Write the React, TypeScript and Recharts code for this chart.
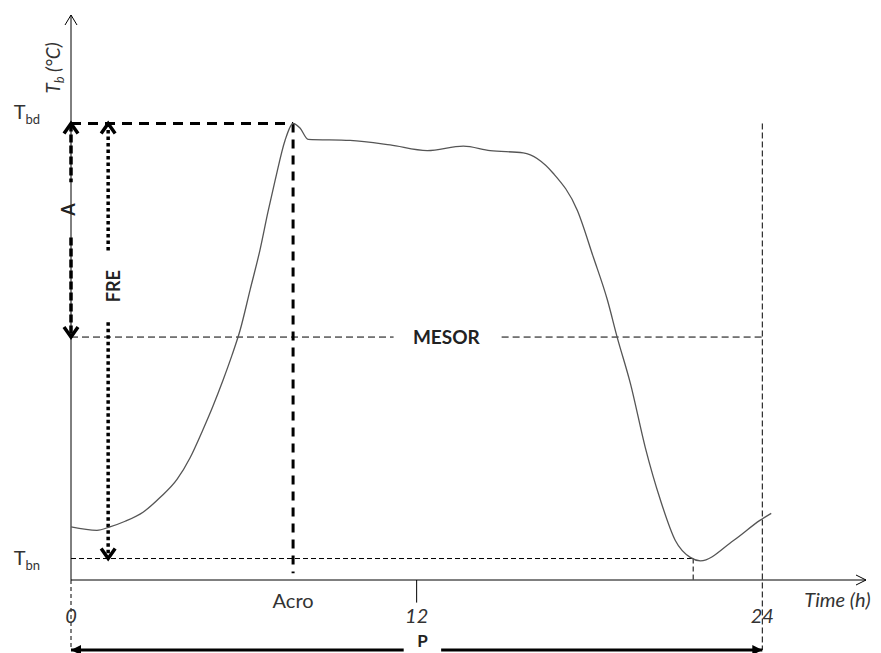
import React from 'react';
import { LineChart, Line, XAxis, YAxis, ReferenceLine, ReferenceDot } from 'recharts';

// body temperature curve over one day (hours, °C - arbitrary scale)
const hours = [0, 0.9, 1.35, 1.88, 2.5, 3.09, 3.68, 4.13, 4.58, 4.93, 5.28, 5.59, 5.87, 6.22, 6.56, 6.84, 7.09, 7.43, 7.71, 7.95, 8.23, 9.69, 11.08, 12.37, 13.62, 14.55, 15.7, 16.74, 17.58, 18.13, 18.62, 18.96, 19.42, 19.94, 20.46, 20.98, 21.5, 21.85, 23.0, 23.93, 24.31];
const temps = [35.47, 35.44, 35.47, 35.52, 35.6, 35.73, 35.89, 36.08, 36.33, 36.54, 36.77, 36.99, 37.21, 37.57, 37.92, 38.26, 38.54, 38.89, 39.04, 39.0, 38.9, 38.89, 38.85, 38.8, 38.84, 38.8, 38.78, 38.6, 38.27, 37.86, 37.48, 37.15, 36.74, 36.17, 35.71, 35.35, 35.2, 35.17, 35.35, 35.53, 35.59];

const xTicks = [0, 12, 24];
const tickLabels = ['0', '12', '24'];

// cosinor parameters
const T_BD = 39.04;
const T_BN = 35.19;
const MESOR = 37.15;
const ACRO = 7.71;
const PERIOD = 24;
const T_MIN_TIME = 21.6;
const FRE_X = 1.29;

const Y_MIN = 35;
const Y_MAX = 40;
const X_MAX = 27.6;
const P_Y = 34.38;

const data = hours.map((h, i) => ({ h, t: temps[i] }));

const FONT = "Lato, 'Liberation Sans', sans-serif";

type Head = 'open' | 'fill' | undefined;

const arrow = (start: Head, end: Head, len = 10, half = 7) => (p: any) => {
  const { x1, y1, x2, y2, stroke, strokeWidth, strokeDasharray } = p;
  const dx = x2 - x1;
  const dy = y2 - y1;
  const d = Math.hypot(dx, dy) || 1;
  const ux = dx / d;
  const uy = dy / d;
  const nx = -uy;
  const ny = ux;
  const head = (tx: number, ty: number, sx: number, sy: number, kind: Head) => {
    const ax = tx + sx * len + nx * half;
    const ay = ty + sy * len + ny * half;
    const bx = tx + sx * len - nx * half;
    const by = ty + sy * len - ny * half;
    if (kind === 'fill') {
      return <path d={`M${ax},${ay}L${tx},${ty}L${bx},${by}Z`} fill={stroke} stroke="none" />;
    }
    return <path d={`M${ax},${ay}L${tx},${ty}L${bx},${by}`} fill="none" stroke={stroke} strokeWidth={strokeWidth} />;
  };
  return (
    <g>
      <line x1={x1} y1={y1} x2={x2} y2={y2} stroke={stroke} strokeWidth={strokeWidth} strokeDasharray={strokeDasharray} />
      {start && head(x1, y1, ux, uy, start)}
      {end && head(x2, y2, -ux, -uy, end)}
    </g>
  );
};

const txt = (content: React.ReactNode, o: { dx?: number; dy?: number; anchor?: string; size?: number; bold?: boolean; italic?: boolean; rotate?: boolean; fill?: string }) => (p: any) => {
  const x = p.cx + (o.dx || 0);
  const y = p.cy + (o.dy || 0);
  return (
    <text
      x={x}
      y={y}
      textAnchor={o.anchor || 'middle'}
      fontFamily={FONT}
      fontSize={o.size || 20}
      fontWeight={o.bold ? 'bold' : 'normal'}
      fontStyle={o.italic ? 'italic' : 'normal'}
      fill={o.fill || '#222'}
      transform={o.rotate ? `rotate(-90 ${x} ${y})` : undefined}
    >
      {content}
    </text>
  );
};

export default function App() {
  return (
    <div style={{ width: 873, height: 645, background: '#fff' }}>
      <LineChart width={873} height={645} data={data} margin={{ top: 7, right: 15, bottom: 73, left: 63 }}>
        <XAxis dataKey="h" type="number" domain={[0, X_MAX]} allowDataOverflow hide />
        <YAxis type="number" domain={[Y_MIN, Y_MAX]} allowDataOverflow hide />

        {/* axes */}
        <ReferenceLine segment={[{ x: 0, y: Y_MIN }, { x: 0, y: Y_MAX }]} stroke="#000" strokeWidth={1} ifOverflow="visible" shape={arrow(undefined, 'open', 10, 6)} />
        <ReferenceLine segment={[{ x: 0, y: Y_MIN }, { x: X_MAX, y: Y_MIN }]} stroke="#000" strokeWidth={1} ifOverflow="visible" shape={arrow(undefined, 'open', 10, 5)} />
        <ReferenceLine segment={[{ x: 12, y: Y_MIN }, { x: 12, y: Y_MIN - 0.2 }]} stroke="#000" strokeWidth={1} ifOverflow="visible" />

        {/* guide lines */}
        <ReferenceLine segment={[{ x: 0, y: MESOR }, { x: 11.2, y: MESOR }]} stroke="#000" strokeWidth={1} strokeDasharray="7 4" ifOverflow="visible" />
        <ReferenceLine segment={[{ x: 14.95, y: MESOR }, { x: PERIOD, y: MESOR }]} stroke="#000" strokeWidth={1} strokeDasharray="7 4" ifOverflow="visible" />
        <ReferenceLine segment={[{ x: 0, y: T_BN }, { x: T_MIN_TIME, y: T_BN }]} stroke="#000" strokeWidth={1} strokeDasharray="5 3" ifOverflow="visible" />
        <ReferenceLine segment={[{ x: T_MIN_TIME, y: T_BN }, { x: T_MIN_TIME, y: Y_MIN }]} stroke="#000" strokeWidth={1} strokeDasharray="5 3" ifOverflow="visible" />
        <ReferenceLine segment={[{ x: PERIOD, y: T_BD }, { x: PERIOD, y: P_Y }]} stroke="#000" strokeWidth={1} strokeDasharray="6 3" ifOverflow="visible" />
        <ReferenceLine segment={[{ x: 0, y: Y_MIN }, { x: 0, y: P_Y }]} stroke="#000" strokeWidth={1} strokeDasharray="4 3" ifOverflow="visible" />

        <ReferenceLine segment={[{ x: 0, y: T_BD }, { x: ACRO, y: T_BD }]} stroke="#000" strokeWidth={3} strokeDasharray="10 7" ifOverflow="visible" />
        <ReferenceLine segment={[{ x: ACRO, y: T_BD }, { x: ACRO, y: 35.06 }]} stroke="#000" strokeWidth={3} strokeDasharray="9 7" ifOverflow="visible" />

        {/* amplitude A */}
        <ReferenceLine segment={[{ x: 0, y: T_BD }, { x: 0, y: 38.52 }]} stroke="#000" strokeWidth={3.5} strokeDasharray="8 3" ifOverflow="visible" shape={arrow('open', undefined, 10, 7)} />
        <ReferenceLine segment={[{ x: 0, y: 38.03 }, { x: 0, y: MESOR }]} stroke="#000" strokeWidth={3.5} strokeDasharray="8 3" ifOverflow="visible" shape={arrow(undefined, 'open', 10, 7)} />

        {/* FRE */}
        <ReferenceLine segment={[{ x: FRE_X, y: T_BD }, { x: FRE_X, y: 37.9 }]} stroke="#000" strokeWidth={3.5} strokeDasharray="3.5 3" ifOverflow="visible" shape={arrow('open', undefined, 10, 7)} />
        <ReferenceLine segment={[{ x: FRE_X, y: 37.28 }, { x: FRE_X, y: T_BN }]} stroke="#000" strokeWidth={3.5} strokeDasharray="3.5 3" ifOverflow="visible" shape={arrow(undefined, 'open', 10, 7)} />

        {/* period P */}
        <ReferenceLine segment={[{ x: 0, y: P_Y }, { x: 11.55, y: P_Y }]} stroke="#000" strokeWidth={3} ifOverflow="visible" shape={arrow('fill', undefined, 10, 5)} />
        <ReferenceLine segment={[{ x: 12.85, y: P_Y }, { x: PERIOD, y: P_Y }]} stroke="#000" strokeWidth={3} ifOverflow="visible" shape={arrow(undefined, 'fill', 10, 5)} />

        <Line type="monotone" dataKey="t" stroke="#555" strokeWidth={1.3} dot={false} isAnimationActive={false} />

        {/* labels */}
        <ReferenceDot x={0} y={T_BD} r={0} ifOverflow="visible" shape={txt(<>T<tspan fontSize={13} dy={5}>bd</tspan></>, { dx: -31, dy: -4, anchor: 'end', fill: '#333' })} />
        <ReferenceDot x={0} y={T_BN} r={0} ifOverflow="visible" shape={txt(<>T<tspan fontSize={13} dy={5}>bn</tspan></>, { dx: -31, dy: 6, anchor: 'end', fill: '#333' })} />
        <ReferenceDot x={0} y={Y_MAX} r={0} ifOverflow="visible" shape={txt(<>T<tspan fontSize={13} dy={4}>b</tspan><tspan dy={-4}> (°C)</tspan></>, { dx: -11, dy: 53, italic: true, rotate: true, size: 19, fill: '#333' })} />
        <ReferenceDot x={0} y={38.28} r={0} ifOverflow="visible" shape={txt('A', { dx: 4, bold: true, rotate: true, size: 18 })} />
        <ReferenceDot x={FRE_X} y={37.6} r={0} ifOverflow="visible" shape={txt('FRE', { dx: 12, bold: true, rotate: true, size: 18 })} />
        <ReferenceDot x={13.03} y={MESOR} r={0} ifOverflow="visible" shape={txt('MESOR', { dy: 7, bold: true, size: 19 })} />
        <ReferenceDot x={12.2} y={P_Y} r={0} ifOverflow="visible" shape={txt('P', { dy: -3, bold: true, size: 17 })} />
        <ReferenceDot x={ACRO} y={Y_MIN} r={0} ifOverflow="visible" shape={txt('Acro', { dy: 28, size: 20, fill: '#333' })} />
        {xTicks.map((t, i) => (
          <ReferenceDot key={t} x={t} y={Y_MIN} r={0} ifOverflow="visible" shape={txt(tickLabels[i], { dy: 43, italic: true, size: 20, fill: '#333' })} />
        ))}
        <ReferenceDot x={PERIOD} y={Y_MIN} r={0} ifOverflow="visible" shape={txt('Time (h)', { dx: 42, dy: 27, anchor: 'start', italic: true, size: 20, fill: '#333' })} />
      </LineChart>
    </div>
  );
}
